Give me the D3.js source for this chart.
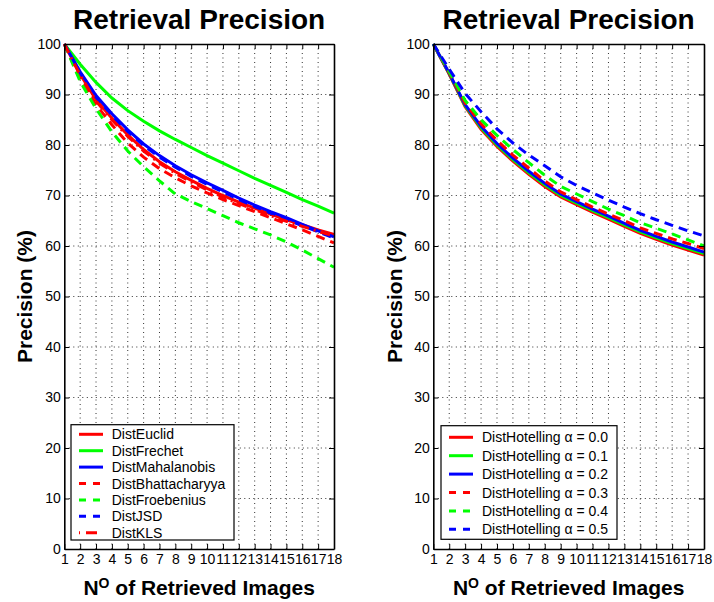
<!DOCTYPE html>
<html lang="en">
<head>
<meta charset="utf-8">
<title>Retrieval Precision</title>
<script src="https://d3js.org/d3.v7.min.js"></script>
<style>
  body { margin: 0; background: #fff; }
  svg { display: block; font-family: "Liberation Sans", Arial, Helvetica, sans-serif; }
</style>
</head>
<body>
<script>

// x categories and y ticks
var images = [1, 2, 3, 4, 5, 6, 7, 8, 9, 10, 11, 12, 13, 14, 15, 16, 17, 18];
var yTicks = [0, 10, 20, 30, 40, 50, 60, 70, 80, 90, 100];

// left panel series (precision %)
var distEuclid        = [100, 94.0, 89.0, 85.3, 82.0, 79.1, 76.7, 74.7, 73.0, 71.4, 70.0, 68.7, 67.5, 66.3, 65.2, 64.2, 63.2, 62.3];
var distFrechet       = [100, 96.0, 92.4, 89.3, 86.8, 84.7, 82.8, 81.1, 79.5, 77.9, 76.4, 74.9, 73.4, 72.0, 70.6, 69.2, 67.9, 66.5];
var distMahalanobis   = [100, 94.5, 89.8, 86.2, 83.0, 80.2, 77.9, 75.9, 74.1, 72.5, 71.0, 69.5, 68.1, 66.8, 65.6, 64.3, 63.0, 61.8];
var distBhattacharyya = [100, 93.0, 88.0, 84.0, 80.4, 77.6, 75.3, 73.5, 71.9, 70.5, 69.2, 68.0, 66.8, 65.6, 64.4, 63.2, 61.9, 60.6];
var distFroebenius    = [100, 92.6, 87.2, 82.6, 78.8, 75.7, 72.9, 70.3, 68.8, 67.4, 66.0, 64.6, 63.4, 62.2, 60.8, 59.2, 57.5, 55.8];
var distJSD           = [100, 94.3, 89.5, 85.9, 82.7, 79.9, 77.6, 75.6, 73.8, 72.2, 70.7, 69.2, 67.8, 66.5, 65.3, 64.0, 62.8, 61.6];
var distKLS           = [100, 93.8, 88.7, 85.0, 81.7, 78.8, 76.4, 74.4, 72.7, 71.1, 69.7, 68.4, 67.2, 66.0, 64.9, 63.9, 62.9, 62.0];

// right panel series (DistHotelling, alpha = 0.0 .. 0.5)
var hotelling00 = [100, 94.0, 87.6, 83.1, 79.7, 76.8, 74.2, 71.8, 69.7, 68.2, 66.7, 65.3, 63.9, 62.5, 61.3, 60.2, 59.2, 58.2];
var hotelling01 = [100, 94.1, 87.8, 83.4, 80.0, 77.1, 74.5, 72.1, 70.0, 68.5, 67.0, 65.6, 64.2, 62.8, 61.6, 60.5, 59.5, 58.5];
var hotelling02 = [100, 94.2, 88.0, 83.7, 80.3, 77.4, 74.8, 72.4, 70.3, 68.8, 67.3, 65.9, 64.5, 63.1, 61.9, 60.8, 59.8, 58.8];
var hotelling03 = [100, 94.3, 88.3, 84.2, 80.9, 78.0, 75.4, 72.9, 70.7, 69.2, 67.7, 66.3, 65.0, 63.6, 62.5, 61.4, 60.5, 59.5];
var hotelling04 = [100, 94.5, 88.8, 85.0, 81.9, 79.1, 76.5, 74.0, 71.8, 70.3, 68.8, 67.3, 66.0, 64.6, 63.5, 62.4, 61.2, 60.0];
var hotelling05 = [100, 95.0, 90.2, 86.6, 83.2, 80.4, 78.0, 75.9, 73.7, 72.0, 70.5, 69.1, 67.7, 66.4, 65.2, 64.1, 63.0, 62.0];

var leftNames  = ["DistEuclid", "DistFrechet", "DistMahalanobis", "DistBhattacharyya", "DistFroebenius", "DistJSD", "DistKLS"];
var rightNames = ["DistHotelling \u03b1 = 0.0", "DistHotelling \u03b1 = 0.1", "DistHotelling \u03b1 = 0.2",
                  "DistHotelling \u03b1 = 0.3", "DistHotelling \u03b1 = 0.4", "DistHotelling \u03b1 = 0.5"];

var RED = "#ff0000", GREEN = "#00ff00", BLUE = "#0000ff";
var SOLID = null, DASH = "9,6", DASHDOT = "10,5,2,5";

var w = 714, h = 602;
var svg = d3.select("body").append("svg").attr("width", w).attr("height", h);

drawPanel({
    x0: 64.3, x1: 334,
    series: [
        { values: distEuclid,        color: RED,   dash: SOLID },
        { values: distFrechet,       color: GREEN, dash: SOLID },
        { values: distMahalanobis,   color: BLUE,  dash: SOLID },
        { values: distBhattacharyya, color: RED,   dash: DASH },
        { values: distFroebenius,    color: GREEN, dash: DASH },
        { values: distJSD,           color: BLUE,  dash: DASH },
        { values: distKLS,           color: RED,   dash: DASHDOT }
    ],
    names: leftNames,
    legend: { x: 71, y: 424.7, w: 163, h: 115.3, first: 434.3, step: 16.4, lx: 79, tx: 111.7 },
    ylabelX: 32
});

drawPanel({
    x0: 433.3, x1: 704,
    series: [
        { values: hotelling00, color: RED,   dash: SOLID },
        { values: hotelling01, color: GREEN, dash: SOLID },
        { values: hotelling02, color: BLUE,  dash: SOLID },
        { values: hotelling03, color: RED,   dash: DASH },
        { values: hotelling04, color: GREEN, dash: DASH },
        { values: hotelling05, color: BLUE,  dash: DASH }
    ],
    names: rightNames,
    legend: { x: 441, y: 425.7, w: 176, h: 113.6, first: 437.3, step: 18.4, lx: 449, tx: 482 },
    ylabelX: 401.5
});

function drawPanel(p)
{
    var yTop = 44, yBot = 549;
    var x = d3.scaleLinear().domain([1, 18]).range([p.x0, p.x1]);
    var y = d3.scaleLinear().domain([0, 100]).range([yBot, yTop]);
    var g = svg.append("g");

    // dotted grid
    g.selectAll("line.vgrid").data(images.slice(1, -1)).enter().append("line")
        .attr("class", "vgrid")
        .attr("x1", function(d) { return x(d); }).attr("x2", function(d) { return x(d); })
        .attr("y1", yBot).attr("y2", yTop)
        .attr("stroke", "#333").attr("stroke-width", 1).attr("stroke-dasharray", "1,3.5");
    g.selectAll("line.hgrid").data(yTicks.slice(1, -1)).enter().append("line")
        .attr("class", "hgrid")
        .attr("x1", p.x0).attr("x2", p.x1)
        .attr("y1", function(d) { return y(d); }).attr("y2", function(d) { return y(d); })
        .attr("stroke", "#333").attr("stroke-width", 1).attr("stroke-dasharray", "1,3.5");

    // curves
    var line = d3.line()
        .x(function(d, i) { return x(images[i]); })
        .y(function(d) { return y(d); });
    p.series.forEach(function(s) {
        g.append("path")
            .attr("d", line(s.values))
            .attr("fill", "none")
            .attr("stroke", s.color)
            .attr("stroke-width", 3)
            .attr("stroke-dasharray", s.dash);
    });

    // axes, ticks inward, box all round
    var bottom = g.append("g").attr("transform", "translate(0," + yBot + ")")
        .call(d3.axisBottom(x).tickValues(images).tickSizeInner(-5).tickSizeOuter(0).tickPadding(5));
    var top = g.append("g").attr("transform", "translate(0," + yTop + ")")
        .call(d3.axisTop(x).tickValues(images).tickSizeInner(-5).tickSizeOuter(0).tickFormat(""));
    var left = g.append("g").attr("transform", "translate(" + p.x0 + ",0)")
        .call(d3.axisLeft(y).tickValues(yTicks).tickSizeInner(-5).tickSizeOuter(0).tickPadding(3.5));
    var right = g.append("g").attr("transform", "translate(" + p.x1 + ",0)")
        .call(d3.axisRight(y).tickValues(yTicks).tickSizeInner(-5).tickSizeOuter(0).tickFormat(""));

    [bottom, top, left, right].forEach(function(a) {
        a.attr("font-family", null).attr("font-size", 14);
        a.select(".domain").attr("stroke", "#000").attr("stroke-width", 1.6);
        a.selectAll(".tick line").attr("stroke", "#000").attr("stroke-width", 1);
        a.selectAll(".tick text").attr("fill", "#000");
    });

    // title and labels
    var cx = (p.x0 + p.x1) / 2;
    svg.append("text")
        .attr("x", cx).attr("y", 28.5)
        .attr("text-anchor", "middle")
        .attr("font-size", 28).attr("font-weight", "bold")
        .text("Retrieval Precision");

    var xl = svg.append("text")
        .attr("x", cx).attr("y", 594.5)
        .attr("text-anchor", "middle")
        .attr("font-size", 21).attr("font-weight", "bold");
    xl.append("tspan").text("N");
    xl.append("tspan").attr("font-size", 14).attr("dy", -7).text("O");
    xl.append("tspan").attr("dy", 7).text(" of Retrieved Images");

    svg.append("text")
        .attr("transform", "translate(" + p.ylabelX + "," + ((yTop + yBot) / 2) + ") rotate(-90)")
        .attr("text-anchor", "middle")
        .attr("font-size", 21).attr("font-weight", "bold")
        .text("Precision (%)");

    // legend
    var L = p.legend;
    var lg = svg.append("g");
    lg.append("rect")
        .attr("x", L.x).attr("y", L.y).attr("width", L.w).attr("height", L.h)
        .attr("fill", "#fff").attr("stroke", "#000").attr("stroke-width", 1.2);
    p.series.forEach(function(s, i) {
        var ly = L.first + i * L.step;
        lg.append("line")
            .attr("x1", L.lx).attr("x2", L.lx + 24)
            .attr("y1", ly).attr("y2", ly)
            .attr("stroke", s.color).attr("stroke-width", 3)
            .attr("stroke-dasharray", s.dash == DASH ? "7,7" : (s.dash == DASHDOT ? "1,6,11,6" : null));
        lg.append("text")
            .attr("x", L.tx).attr("y", ly).attr("dy", "0.36em")
            .attr("font-size", 14)
            .text(p.names[i]);
    });
}

</script>
</body>
</html>
